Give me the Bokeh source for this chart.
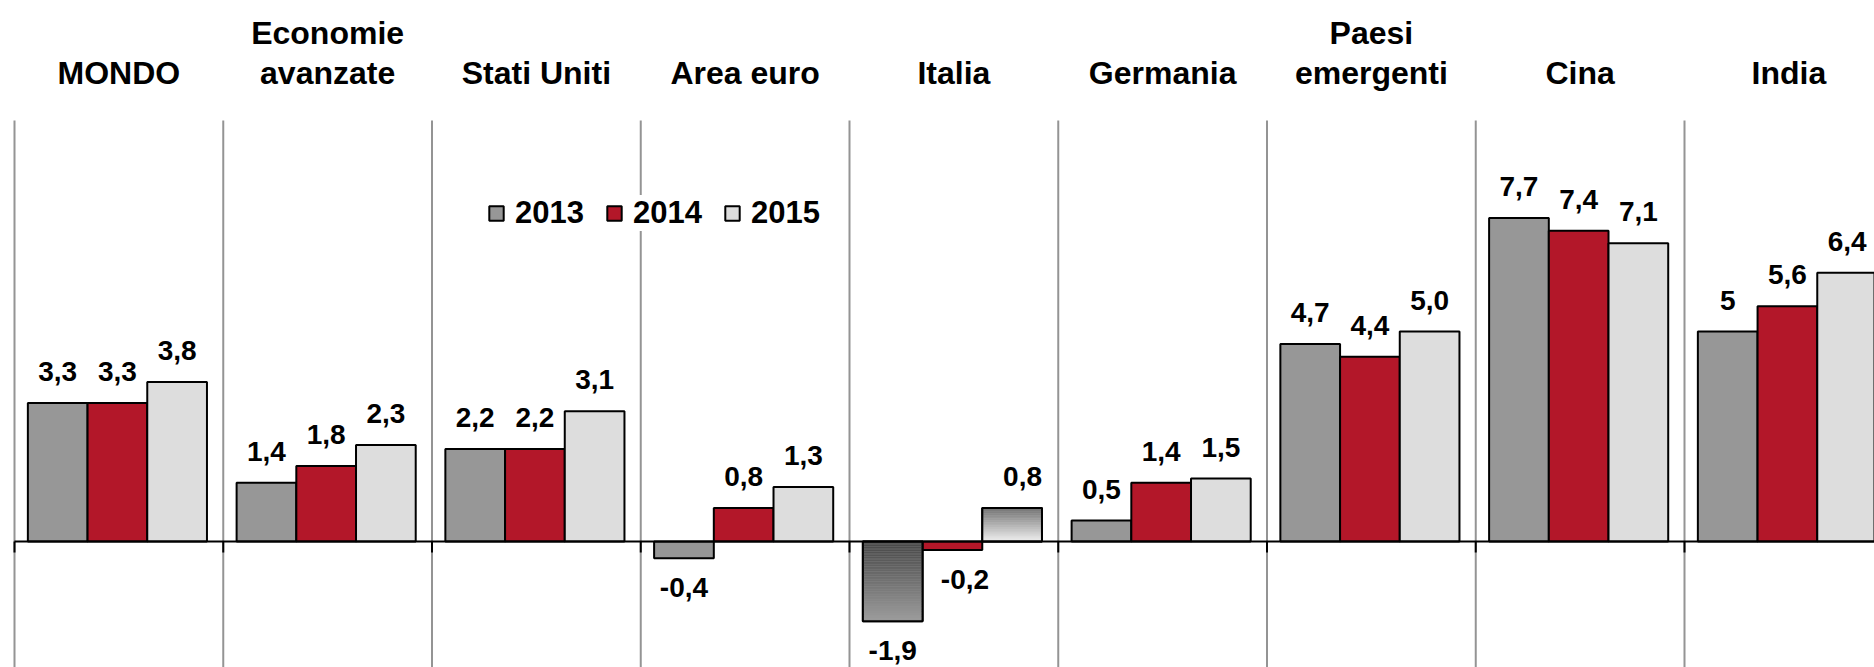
from bokeh.plotting import figure
from bokeh.models import Legend, LegendItem, ColumnDataSource, Range1d
from bokeh.embed import file_html
from bokeh.resources import INLINE
from bokeh.core.properties import value
import numpy as np

# ---------------- data ----------------
categories = ["MONDO", "Economie\navanzate", "Stati Uniti", "Area euro", "Italia",
              "Germania", "Paesi\nemergenti", "Cina", "India"]
years = ["2013", "2014", "2015"]
g2013 = [3.3, 1.4, 2.2, -0.4, -1.9, 0.5, 4.7, 7.7, 5.0]
g2014 = [3.3, 1.8, 2.2, 0.8, -0.2, 1.4, 4.4, 7.4, 5.6]
g2015 = [3.8, 2.3, 3.1, 1.3, 0.8, 1.5, 5.0, 7.1, 6.4]
lab2013 = ["3,3", "1,4", "2,2", "-0,4", "-1,9", "0,5", "4,7", "7,7", "5"]
lab2014 = ["3,3", "1,8", "2,2", "0,8", "-0,2", "1,4", "4,4", "7,4", "5,6"]
lab2015 = ["3,8", "2,3", "3,1", "1,3", "0,8", "1,5", "5,0", "7,1", "6,4"]

series = [g2013, g2014, g2015]
labels = [lab2013, lab2014, lab2015]

# ---------------- style ----------------
colors = ["#979797", "#B31729", "#DDDDDD"]
# gradient-filled bars: (category index, series index) -> (screen-top colour, screen-bottom colour)
gradients = {(4, 0): ("#474747", "#9C9C9C"), (4, 2): ("#5A5A5A", "#F2F2F2")}
label_nudge = {(4, 1): 0.06, (4, 2): 0.05}
FONT_NAME = "Liberation Sans"
FONT = value(FONT_NAME)

W, H = 1874, 667
PXU_X = 208.75          # px per category
PXU_Y = 42.0            # px per percentage point
zero_px = 541           # zero line from figure top
left_px = 14            # first separator from figure left
TXT_SHIFT = 9.5         # renderer places alphabetic baseline this many px lower
x0 = -left_px / PXU_X
x1 = (W - left_px) / PXU_X
y1 = zero_px / PXU_Y
y0 = -(H - zero_px) / PXU_Y
sep_top = (zero_px - 120) / PXU_Y
cat_base = (zero_px - 81.7 + TXT_SHIFT) / PXU_Y
line_gap = 40 / PXU_Y
bw = 0.286

p = figure(width=W, height=H, output_backend="svg", toolbar_location=None,
           x_range=Range1d(x0, x1), y_range=Range1d(y0, y1),
           x_axis_location=None, y_axis_location=None,
           min_border=0, outline_line_color=None)
p.grid.visible = False

n = len(categories)
# separators
sx = list(range(n + 1))
p.segment(x0=sx, y0=[y0] * len(sx), x1=sx, y1=[sep_top] * len(sx),
          line_color="#949494", line_width=2)

# bars
renderers = []
for k, (vals, col) in enumerate(zip(series, colors)):
    xs = [i + 0.5 - 0.007 + (k - 1) * bw for i in range(n)]
    src = ColumnDataSource(dict(x=xs, top=vals, bottom=[0] * n))
    r = p.vbar(x="x", top="top", bottom="bottom", width=bw, source=src,
               fill_color=col, line_color="black", line_width=2)
    renderers.append(r)

# gradient overlays
for (i, k), (ctop, cbot) in gradients.items():
    v = series[k][i]
    xc = i + 0.5 - 0.007 + (k - 1) * bw
    N = 48
    hi, lo = max(v, 0), min(v, 0)
    edges = np.linspace(hi, lo, N + 1)
    c1 = np.array([int(ctop[j:j + 2], 16) for j in (1, 3, 5)], float)
    c2 = np.array([int(cbot[j:j + 2], 16) for j in (1, 3, 5)], float)
    cols = []
    for t in np.linspace(0, 1, N):
        c = c1 + (c2 - c1) * t
        cols.append("#%02x%02x%02x" % tuple(int(round(q)) for q in c))
    p.quad(left=[xc - bw / 2] * N, right=[xc + bw / 2] * N,
           top=list(edges[:-1]), bottom=list(edges[1:]),
           fill_color=cols, line_color=None)
    p.quad(left=[xc - bw / 2], right=[xc + bw / 2], top=[hi], bottom=[lo],
           fill_alpha=0, line_color="black", line_width=2)

# zero line and ticks
p.segment(x0=[0], y0=[0], x1=[n], y1=[0], line_color="black", line_width=2)
p.segment(x0=sx, y0=[0] * len(sx), x1=sx, y1=[-11 / PXU_Y] * len(sx),
          line_color="black", line_width=2)

# value labels
for k, (vals, labs) in enumerate(zip(series, labels)):
    xs, ys = [], []
    for i, v in enumerate(vals):
        xs.append(i + 0.5 - 0.007 + (k - 1) * bw + label_nudge.get((i, k), 0))
        ys.append(v + (22 + TXT_SHIFT) / PXU_Y if v >= 0 else v - (39 - TXT_SHIFT) / PXU_Y)
    p.text(x=xs, y=ys, text=labs, text_font=FONT, text_font_style="bold",
           text_font_size="28px", text_align="center", text_baseline="alphabetic",
           text_color="black")

# category labels
cx, cy, ct = [], [], []
for i, c in enumerate(categories):
    lines = c.split("\n")
    for j, ln in enumerate(lines):
        cx.append(i + 0.5)
        cy.append(cat_base + (len(lines) - 1 - j) * line_gap)
        ct.append(ln)
p.text(x=cx, y=cy, text=ct, text_font=FONT, text_font_style="bold",
       text_font_size="32px", text_align="center", text_baseline="alphabetic",
       text_color="black")

legend = Legend(items=[LegendItem(label=y, renderers=[r]) for y, r in zip(years, renderers)],
                orientation="horizontal", location=(487, 436),
                glyph_width=18, glyph_height=18, label_standoff=10, spacing=21,
                padding=6, margin=0,
                label_text_font=FONT_NAME, label_text_font_style="bold",
                label_text_font_size="31px", label_text_color="black",
                border_line_color=None, background_fill_color="white",
                background_fill_alpha=1.0)
p.add_layout(legend)

open("out.html", "w").write(file_html(p, INLINE))
